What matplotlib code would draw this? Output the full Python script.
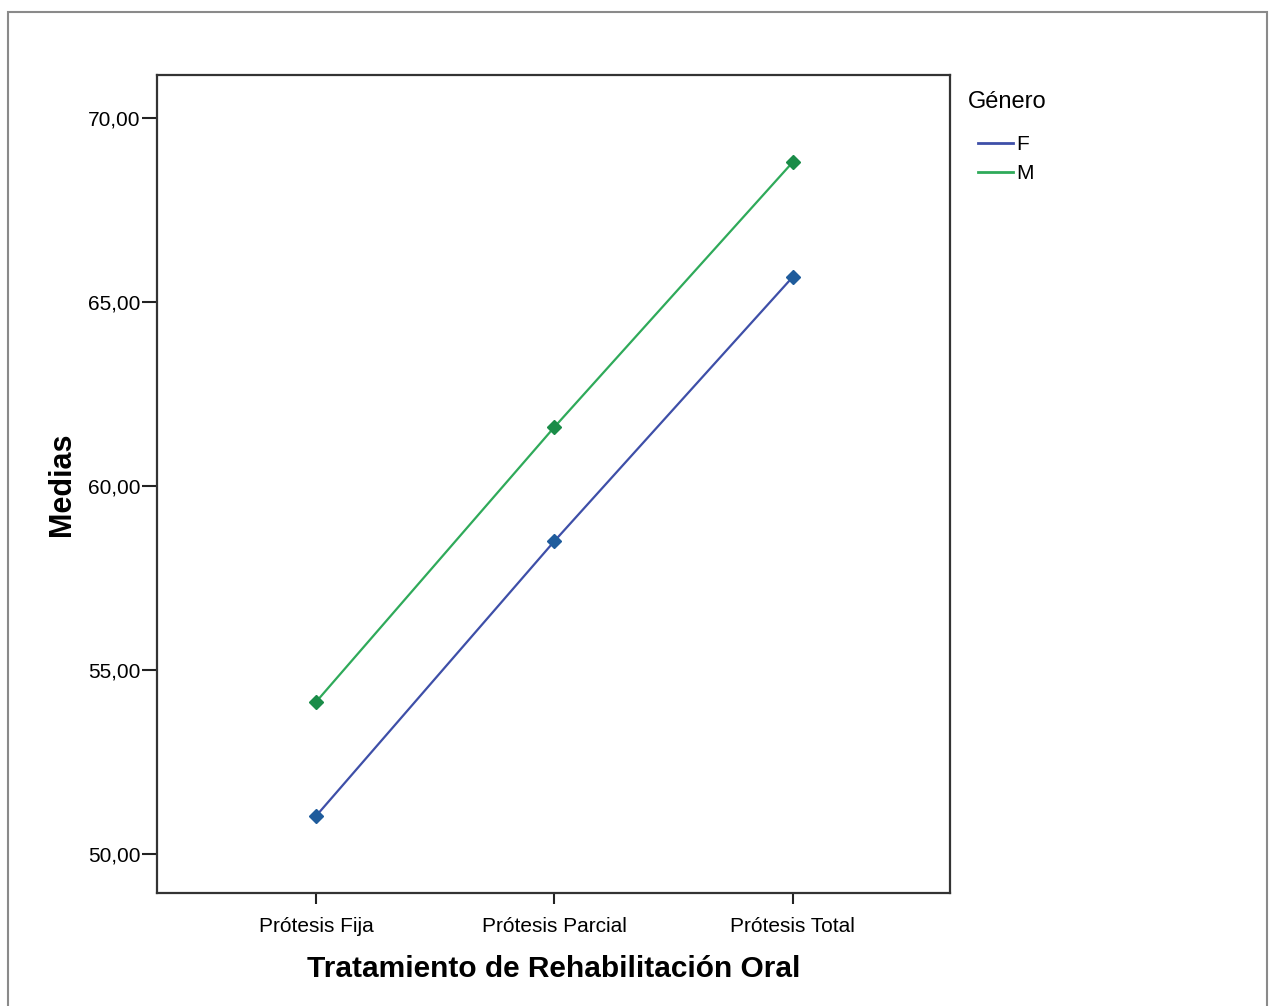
import matplotlib.pyplot as plt
from matplotlib.patches import Rectangle

plt.rcParams['font.family'] = ['Liberation Sans', 'DejaVu Sans']

# Data
tratamientos = ['Prótesis Fija', 'Prótesis Parcial', 'Prótesis Total']
medias_f = [51.03, 58.50, 65.68]
medias_m = [54.13, 61.60, 68.80]
y_ticks = [50, 55, 60, 65, 70]

fig = plt.figure(figsize=(12.71, 10.06), dpi=100)

# light frame around the whole picture, like the scanned original
fig.patches.append(Rectangle((8 / 1271, -0.01), 1259 / 1271, 1 - 12 / 1006 + 0.01,
                             transform=fig.transFigure, fill=False,
                             edgecolor='#8a8a8a', linewidth=1.5))

ax = fig.add_axes([0.1235, 0.1123, 0.6239, 0.8131])
x = range(len(tratamientos))
ax.plot(x, medias_f, color='#3E4FA8', linewidth=1.6, marker='D', markersize=7,
        markerfacecolor='#1F5C9C', markeredgecolor='#1F5C9C', label='F')
ax.plot(x, medias_m, color='#2FAA5A', linewidth=1.6, marker='D', markersize=7,
        markerfacecolor='#1A8C48', markeredgecolor='#1A8C48', label='M')

ax.set_xlim(-0.667, 2.66)
ax.set_ylim(48.94, 71.17)
ax.set_xticks(list(x))
ax.set_xticklabels(tratamientos, fontsize=15)
ax.set_yticks(y_ticks)
ax.set_yticklabels([f'{v:.2f}'.replace('.', ',') for v in y_ticks], fontsize=15)
ax.tick_params(axis='y', direction='out', length=11, width=1.5, color='#222222', pad=1)
ax.tick_params(axis='x', direction='out', length=8, width=1.5, color='#222222', pad=9)
for s in ax.spines.values():
    s.set_color('#333333')
    s.set_linewidth(1.6)

ax.set_xlabel('Tratamiento de Rehabilitación Oral', fontsize=21.5, fontweight='bold', labelpad=14)
ax.set_ylabel('Medias', fontsize=22, fontweight='bold', labelpad=8)

fig.text(968 / 1271, 1 - 102 / 1006, 'Género', fontsize=17, ha='left', va='center')
leg = ax.legend(loc='upper left', bbox_to_anchor=(978 / 1271, 1 - 135 / 1006),
                bbox_transform=fig.transFigure, frameon=False, fontsize=15,
                handlelength=1.7, handletextpad=0.15, labelspacing=0.5,
                borderaxespad=0, borderpad=0)
for line in leg.get_lines():
    line.set_marker('')
    line.set_linewidth(2)

fig.savefig('out.png', dpi=100)
